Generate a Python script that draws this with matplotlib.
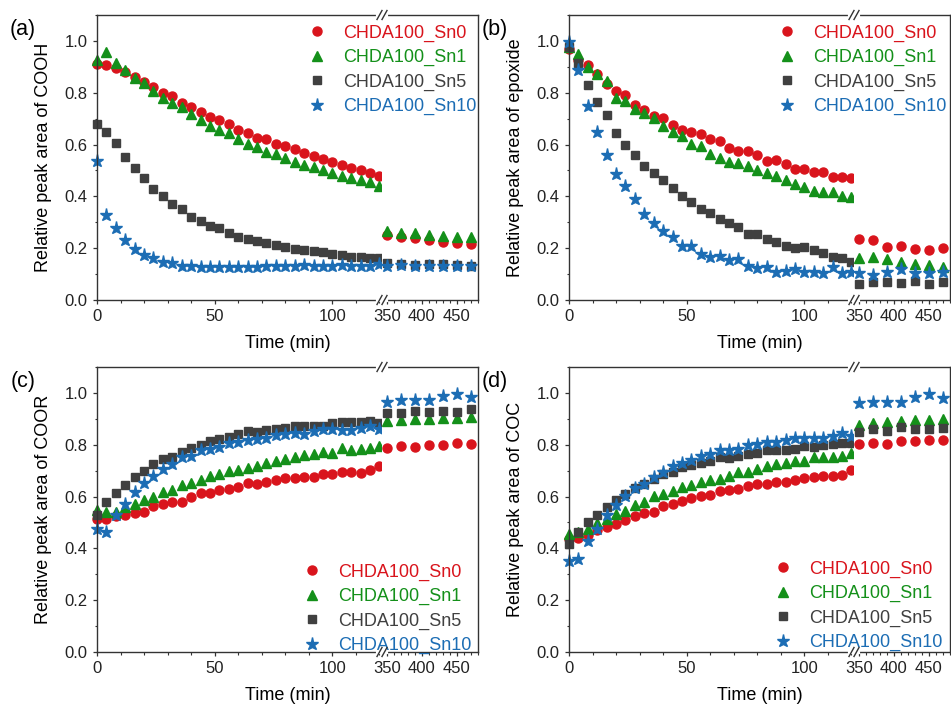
import numpy as np
import matplotlib
matplotlib.use('Agg')
import matplotlib.pyplot as plt
from matplotlib.ticker import MultipleLocator
from matplotlib.lines import Line2D

plt.rcParams['font.family'] = ['Liberation Sans', 'DejaVu Sans']

# sampling times (min): every 4 min up to 120, then every 20 min from 350
times = [0, 4, 8, 12, 16, 20, 24, 28, 32, 36, 40, 44, 48, 52, 56, 60, 64, 68,
         72, 76, 80, 84, 88, 92, 96, 100, 104, 108, 112, 116, 120,
         350, 370, 390, 410, 430, 450, 470]

labels = ['CHDA100_Sn0', 'CHDA100_Sn1', 'CHDA100_Sn5', 'CHDA100_Sn10']

# (a) COOH
cooh_sn0 = [0.910, 0.907, 0.897, 0.880, 0.861, 0.842, 0.823, 0.798, 0.787, 0.760, 0.743, 0.724, 0.708, 0.695, 0.679, 0.656,
            0.644, 0.627, 0.621, 0.602, 0.593, 0.582, 0.567, 0.554, 0.544, 0.532, 0.521, 0.508, 0.503, 0.491, 0.479,
            0.251, 0.245, 0.238, 0.233, 0.222, 0.221, 0.216]
cooh_sn1 = [0.925, 0.959, 0.916, 0.888, 0.857, 0.839, 0.806, 0.778, 0.762, 0.743, 0.716, 0.694, 0.670, 0.657, 0.643, 0.621,
            0.603, 0.589, 0.571, 0.562, 0.550, 0.531, 0.521, 0.514, 0.501, 0.492, 0.477, 0.470, 0.464, 0.454, 0.440,
            0.265, 0.257, 0.257, 0.251, 0.247, 0.244, 0.242]
cooh_sn5 = [0.681, 0.647, 0.605, 0.553, 0.509, 0.469, 0.428, 0.400, 0.369, 0.351, 0.321, 0.306, 0.284, 0.278, 0.258, 0.244,
            0.234, 0.226, 0.219, 0.212, 0.203, 0.197, 0.193, 0.190, 0.185, 0.177, 0.174, 0.166, 0.166, 0.163, 0.161,
            0.143, 0.139, 0.136, 0.139, 0.139, 0.135, 0.132]
cooh_sn10 = [0.537, 0.330, 0.276, 0.231, 0.197, 0.174, 0.161, 0.148, 0.141, 0.130, 0.130, 0.127, 0.126, 0.126, 0.126, 0.126,
             0.126, 0.129, 0.130, 0.130, 0.130, 0.130, 0.135, 0.132, 0.130, 0.132, 0.135, 0.132, 0.132, 0.132, 0.139,
             0.132, 0.136, 0.130, 0.132, 0.132, 0.132, 0.130]

# (b) epoxide
epox_sn0 = [0.968, 0.928, 0.906, 0.871, 0.835, 0.808, 0.790, 0.754, 0.733, 0.709, 0.703, 0.677, 0.658, 0.648, 0.639, 0.621,
            0.612, 0.587, 0.577, 0.577, 0.558, 0.536, 0.539, 0.523, 0.506, 0.506, 0.494, 0.495, 0.474, 0.473, 0.469,
            0.237, 0.231, 0.204, 0.208, 0.198, 0.192, 0.199]
epox_sn1 = [0.977, 0.951, 0.900, 0.874, 0.846, 0.781, 0.767, 0.739, 0.720, 0.704, 0.671, 0.649, 0.634, 0.604, 0.596, 0.563,
            0.550, 0.533, 0.530, 0.518, 0.501, 0.491, 0.478, 0.463, 0.446, 0.437, 0.420, 0.415, 0.418, 0.402, 0.398,
            0.163, 0.165, 0.158, 0.145, 0.138, 0.135, 0.129]
epox_sn5 = [0.975, 0.915, 0.829, 0.763, 0.713, 0.645, 0.600, 0.558, 0.518, 0.491, 0.465, 0.431, 0.401, 0.379, 0.351, 0.334,
            0.312, 0.299, 0.283, 0.254, 0.254, 0.235, 0.222, 0.210, 0.202, 0.206, 0.193, 0.180, 0.167, 0.161, 0.145,
            0.060, 0.071, 0.068, 0.064, 0.075, 0.060, 0.069]
epox_sn10 = [0.996, 0.887, 0.749, 0.647, 0.559, 0.486, 0.440, 0.389, 0.332, 0.299, 0.266, 0.244, 0.208, 0.208, 0.177, 0.167,
             0.170, 0.154, 0.158, 0.132, 0.122, 0.129, 0.109, 0.113, 0.118, 0.107, 0.109, 0.105, 0.126, 0.103, 0.109,
             0.103, 0.096, 0.107, 0.118, 0.103, 0.105, 0.109]

# (c) COOR
coor_sn0 = [0.515, 0.512, 0.526, 0.528, 0.537, 0.541, 0.563, 0.571, 0.580, 0.580, 0.599, 0.612, 0.614, 0.627, 0.631, 0.636,
            0.653, 0.649, 0.656, 0.663, 0.671, 0.672, 0.677, 0.677, 0.686, 0.686, 0.695, 0.695, 0.692, 0.704, 0.716,
            0.788, 0.796, 0.792, 0.799, 0.798, 0.805, 0.802]
coor_sn1 = [0.550, 0.541, 0.539, 0.558, 0.573, 0.586, 0.599, 0.616, 0.625, 0.645, 0.653, 0.663, 0.679, 0.686, 0.699, 0.702,
            0.710, 0.717, 0.731, 0.737, 0.746, 0.751, 0.760, 0.764, 0.773, 0.769, 0.789, 0.781, 0.783, 0.789, 0.796,
            0.891, 0.895, 0.901, 0.901, 0.904, 0.905, 0.907]
coor_sn5 = [0.528, 0.580, 0.614, 0.644, 0.674, 0.697, 0.724, 0.743, 0.753, 0.771, 0.788, 0.798, 0.815, 0.821, 0.828, 0.841,
            0.852, 0.850, 0.856, 0.861, 0.865, 0.873, 0.873, 0.871, 0.873, 0.884, 0.888, 0.886, 0.887, 0.891, 0.884,
            0.923, 0.924, 0.929, 0.927, 0.929, 0.927, 0.938]
coor_sn10 = [0.473, 0.464, 0.530, 0.571, 0.618, 0.654, 0.680, 0.708, 0.724, 0.751, 0.756, 0.781, 0.783, 0.792, 0.805, 0.811,
             0.820, 0.824, 0.826, 0.837, 0.843, 0.846, 0.843, 0.852, 0.859, 0.860, 0.856, 0.856, 0.866, 0.873, 0.860,
             0.965, 0.974, 0.974, 0.972, 0.987, 0.994, 0.985]

# (d) COC
coc_sn0 = [0.437, 0.440, 0.452, 0.469, 0.482, 0.495, 0.510, 0.523, 0.536, 0.542, 0.562, 0.572, 0.581, 0.594, 0.602, 0.607,
           0.620, 0.626, 0.630, 0.639, 0.647, 0.649, 0.656, 0.658, 0.662, 0.671, 0.674, 0.679, 0.679, 0.684, 0.701,
           0.801, 0.806, 0.803, 0.814, 0.814, 0.820, 0.820]
coc_sn1 = [0.456, 0.465, 0.473, 0.497, 0.514, 0.533, 0.544, 0.566, 0.578, 0.602, 0.608, 0.623, 0.636, 0.645, 0.658, 0.662,
           0.668, 0.679, 0.694, 0.694, 0.707, 0.716, 0.726, 0.730, 0.739, 0.739, 0.754, 0.754, 0.754, 0.757, 0.767,
           0.878, 0.883, 0.889, 0.893, 0.896, 0.897, 0.900]
coc_sn5 = [0.418, 0.463, 0.501, 0.530, 0.559, 0.587, 0.608, 0.634, 0.649, 0.668, 0.688, 0.694, 0.713, 0.720, 0.730, 0.739,
           0.752, 0.749, 0.758, 0.765, 0.770, 0.780, 0.778, 0.781, 0.784, 0.797, 0.790, 0.798, 0.803, 0.807, 0.807,
           0.851, 0.861, 0.852, 0.868, 0.859, 0.862, 0.864]
coc_sn10 = [0.353, 0.360, 0.428, 0.476, 0.527, 0.566, 0.602, 0.634, 0.649, 0.677, 0.694, 0.716, 0.729, 0.742, 0.756, 0.765,
            0.778, 0.781, 0.784, 0.799, 0.803, 0.812, 0.810, 0.819, 0.826, 0.826, 0.825, 0.826, 0.833, 0.846, 0.835,
            0.961, 0.964, 0.964, 0.964, 0.983, 0.996, 0.979]

colors = ['#d9141c', '#14901a', '#404040', '#1c6db4']
markers = ['o', '^', 's', '*']
msizes = [6.5, 7.0, 5.8, 9.5]

W, H = 951, 707
fig = plt.figure(figsize=(W / 100, H / 100), dpi=100)

LW, RW, AH = 285, 96, 285   # left part width, right part width, height (px)
spine_c = '#333333'


def fx(px):
    return px / W


def fy(py):
    return 1 - py / H


def slash_marks(xb, yb):
    # white gap in the spine, then two slanted strokes
    fig.add_artist(Line2D([fx(xb - 4), fx(xb + 4)], [fy(yb), fy(yb)], transform=fig.transFigure,
                          color='white', lw=3, zorder=10))
    for dx in (-2.5, 2.5):
        fig.add_artist(Line2D([fx(xb + dx - 2.5), fx(xb + dx + 2.5)], [fy(yb + 4.5), fy(yb - 4.5)],
                              transform=fig.transFigure, color=spine_c, lw=1.0, zorder=11))


def panel(x0, y0, tag, name, series, leg_xy):
    axl = fig.add_axes([fx(x0), fy(y0 + AH), LW / W, AH / H])
    axr = fig.add_axes([fx(x0 + LW), fy(y0 + AH), RW / W, AH / H])
    t = np.array(times)
    early = t <= 120
    late = t >= 350
    handles = []
    for vals, c, m, ms, lab in zip(series, colors, markers, msizes, labels):
        v = np.array(vals)
        h, = axl.plot(t[early], v[early], ls='none', marker=m, ms=ms, color=c, mec=c, clip_on=False, label=lab)
        axr.plot(t[late], v[late], ls='none', marker=m, ms=ms, color=c, mec=c, clip_on=False)
        handles.append(h)

    axl.set_xlim(0, 121.1)
    axr.set_xlim(343.3, 480.5)
    for ax in (axl, axr):
        ax.set_ylim(0, 1.1)
        for s in ax.spines.values():
            s.set_color(spine_c)
            s.set_linewidth(1.0)
        ax.tick_params(axis='both', which='major', direction='out', length=3.2, width=0.9,
                       color=spine_c, labelsize=12, labelcolor='#222222', top=False, right=False)
        ax.tick_params(axis='both', which='minor', direction='out', length=1.8, width=0.8,
                       color=spine_c, top=False, right=False)
    axl.spines['right'].set_visible(False)
    axr.spines['left'].set_visible(False)
    axl.xaxis.set_major_locator(MultipleLocator(50))
    axl.xaxis.set_minor_locator(MultipleLocator(10))
    axr.set_xticks([350, 400, 450])
    axr.xaxis.set_minor_locator(MultipleLocator(10))
    axl.yaxis.set_major_locator(MultipleLocator(0.2))
    axl.yaxis.set_minor_locator(MultipleLocator(0.1))
    axl.yaxis.set_major_formatter(plt.FormatStrFormatter('%.1f'))
    axr.tick_params(axis='y', which='both', left=False, labelleft=False)

    axl.set_ylabel('Relative peak area of ' + name, fontsize=13)
    axl.yaxis.set_label_coords(-45 / LW, 0.5)
    fig.text(fx(x0 + (LW + RW) / 2), fy(y0 + AH + 44), 'Time (min)', fontsize=13, ha='center', va='center')
    fig.text(fx(x0 - 74), fy(y0 + 15), tag, fontsize=15.5, ha='center', va='center')

    xb = x0 + LW
    slash_marks(xb, y0 + AH)
    slash_marks(xb, y0)

    lx, ly = leg_xy
    leg = fig.legend(handles=handles, loc='upper left',
                     bbox_to_anchor=(fx(lx - 9), fy(ly - 7.5)), frameon=False, fontsize=13,
                     borderpad=0, borderaxespad=0, handlelength=1.0, handletextpad=0.95,
                     labelspacing=0.41, numpoints=1)
    for txt, c in zip(leg.get_texts(), colors):
        txt.set_color(c)


panel(97, 15, '(a)', 'COOH', [cooh_sn0, cooh_sn1, cooh_sn5, cooh_sn10], (317, 32))
panel(569, 15, '(b)', 'epoxide', [epox_sn0, epox_sn1, epox_sn5, epox_sn10], (787, 32))
panel(97, 367, '(c)', 'COOR', [coor_sn0, coor_sn1, coor_sn5, coor_sn10], (312, 571))
panel(569, 367, '(d)', 'COC', [coc_sn0, coc_sn1, coc_sn5, coc_sn10], (783, 568))

fig.savefig('out.png', dpi=100)
